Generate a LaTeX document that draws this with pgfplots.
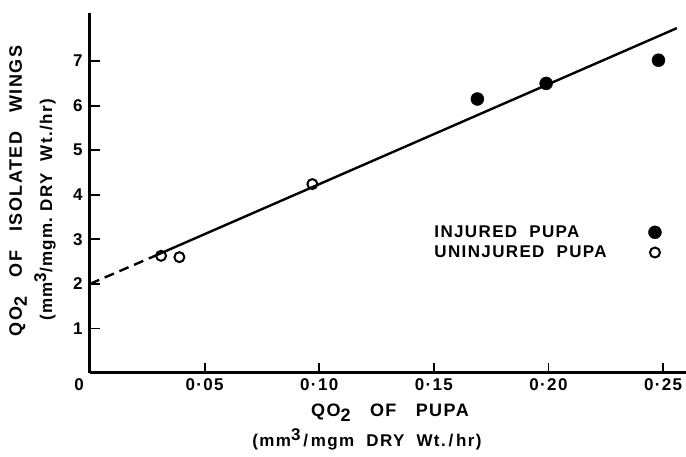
\documentclass[border=0pt]{standalone}
\usepackage{pgfplots}
\pgfplotsset{compat=1.18}
\usepackage{fontspec}
\setmainfont{Liberation Sans}
\newfontfamily\lab[LetterSpace=8]{Liberation Sans}
\begin{document}
\begin{tikzpicture}
\begin{axis}[
  at={(0pt,0pt)}, anchor=south west,
  width=596pt, height=360pt, scale only axis,
  xmin=0, xmax=0.26, ymin=0, ymax=8.08,
  axis x line=bottom, axis y line=left,
  axis line style={-, line width=3pt, black},
  xtick={0.05,0.10,0.15,0.20,0.25},
  xticklabels={0·05,0·10,0·15,0·20,0·25},
  ytick={1,2,3,4,5,6,7},
  /pgf/number format/assume math mode=true,
  tick align=inside, major tick length=10pt,
  tick style={line width=1.8pt, black},
  xticklabel style={font=\lab\bfseries\fontsize{17}{17}\selectfont, yshift=-2pt},
  yticklabel style={font=\lab\bfseries\fontsize{17}{17}\selectfont, xshift=-4pt},
  clip=false,
  legend style={at={(axis cs:0.148,3.40)}, anchor=north west, draw=none, fill=none,
    font=\lab\bfseries\fontsize{17}{17}\selectfont, row sep=3pt,
    legend cell align=left},
  legend plot pos=right,
]
\addplot[only marks, mark=*, mark size=6.5pt, black] coordinates {(0.169,6.15) (0.199,6.50) (0.248,7.02)};
\addlegendentry{\makebox[212pt][l]{INJURED\ \ PUPA}}
\addplot[only marks, mark=o, mark size=5pt, black, line width=2pt] coordinates {(0.031,2.63) (0.039,2.60) (0.097,4.24)};
\addlegendentry{\makebox[212pt][l]{UNINJURED\ \ PUPA}}
\addplot[line width=2.4pt, black, dash pattern=on 10pt off 6pt, forget plot] coordinates {(0,2.0) (0.027,2.60)};
\addplot[line width=2.4pt, black, forget plot] coordinates {(0.027,2.60) (0.256,7.74)};
\end{axis}
\node[font=\lab\bfseries\fontsize{17}{17}\selectfont] at (-11pt,-12pt) {0};
\node[rotate=90, font=\lab\bfseries\fontsize{18}{18}\selectfont] at (-72pt,182pt) {QO\raisebox{-5pt}{2}\ \ \ OF\ \ \ ISOLATED\ \ \ WINGS};
\node[rotate=90, font=\lab\bfseries\fontsize{17}{17}\selectfont] at (-45pt,163pt) {(mm\raisebox{6pt}{3}/mgm.\ DRY\ \ Wt./hr)};
\node[font=\lab\bfseries\fontsize{18}{18}\selectfont] at (300pt,-40pt) {QO\raisebox{-5pt}{2}\ \ \ OF\ \ \ PUPA};
\node[font=\lab\bfseries\fontsize{17}{17}\selectfont] at (277pt,-66pt) {(mm\raisebox{6pt}{3}\,/\,mgm\ \ DRY\ \ Wt.\,/\,hr)};
\pgfresetboundingbox
\path[use as bounding box] (-90pt,-84pt) rectangle (596pt,373pt);
\end{tikzpicture}
\end{document}
